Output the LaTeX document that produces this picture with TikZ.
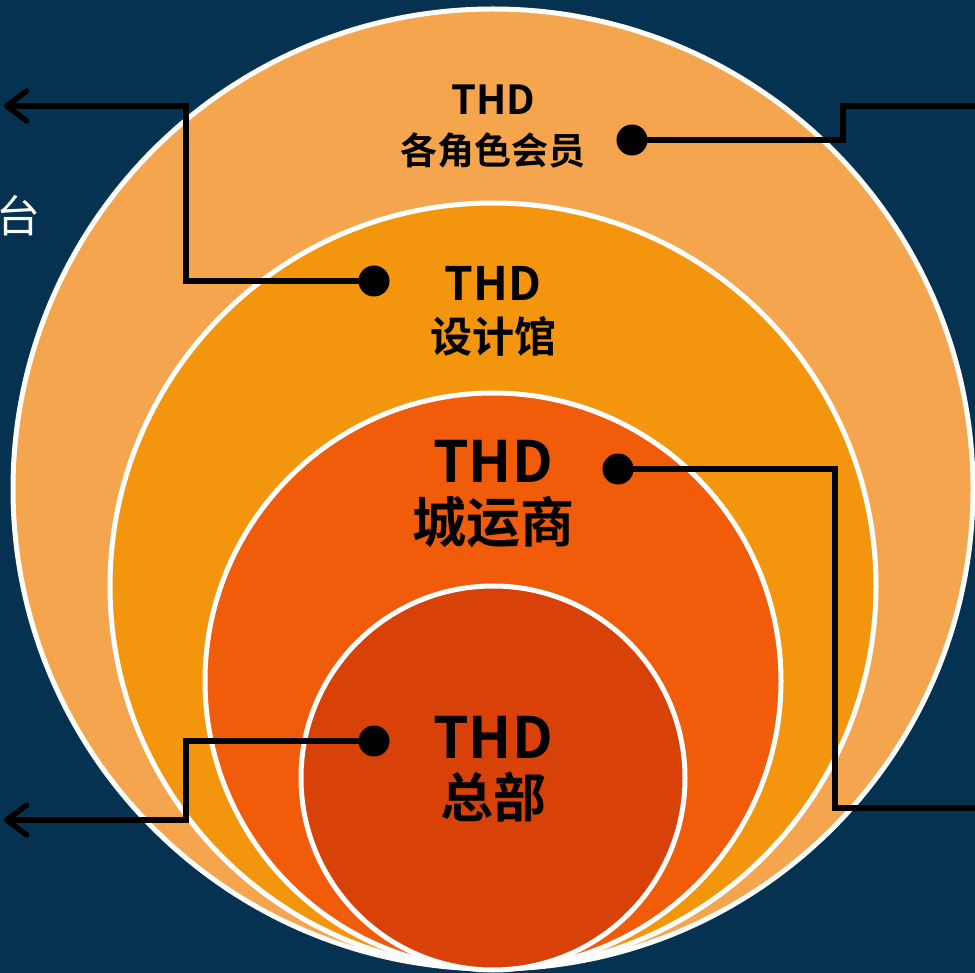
\documentclass[tikz,border=0pt]{standalone}
\usepackage{fontspec}
\newfontfamily\cjk{Noto Sans CJK SC}[BoldFont={Noto Sans CJK SC Bold}]
\usetikzlibrary{arrows.meta}
\definecolor{bgblue}{RGB}{5,50,80}
\definecolor{ringA}{RGB}{244,165,78}
\definecolor{ringB}{RGB}{243,150,14}
\definecolor{ringC}{RGB}{240,92,10}
\definecolor{ringD}{RGB}{216,66,8}
\tikzset{
  ring/.style={draw=white,line width=5pt},
  dotmark/.style={circle,fill=black,inner sep=0pt,minimum size=31pt},
  lead/.style={line width=5.5pt,black,line join=miter},
  leadarrow/.style={lead,-{Straight Barb[length=20pt,width=30pt,line cap=round,line join=round]}},
  lbl/.style={font=\cjk\bfseries,text=black,inner sep=0pt,align=center}
}
\begin{document}
\begin{tikzpicture}[x=1pt,y=-1pt]
\useasboundingbox (0,0) rectangle (975,973);
\fill[bgblue] (0,0) rectangle (975,973);
% circles
\filldraw[ring,fill=ringA] (493,489) circle (480);
\filldraw[ring,fill=ringB] (493,586) circle (383);
\filldraw[ring,fill=ringC] (493,681) circle (288);
\filldraw[ring,fill=ringD] (493,778) circle (192);
% labels
\node[lbl,font=\cjk\bfseries\fontsize{40}{44}\selectfont] (t1) at (493,100) {THD};
\node[lbl,font=\cjk\bfseries\fontsize{37}{40}\selectfont] (c1) at (493,150) {各角色会员};
\node[lbl,font=\cjk\bfseries\fontsize{46}{50}\selectfont] (t2) at (493,283) {THD};
\node[lbl,font=\cjk\bfseries\fontsize{42}{46}\selectfont] (c2) at (493,336) {设计馆};
\node[lbl,font=\cjk\bfseries\fontsize{57}{60}\selectfont] (t3) at (493,461) {THD};
\node[lbl,font=\cjk\bfseries\fontsize{54}{58}\selectfont] (c3) at (493,522) {城运商};
\node[lbl,font=\cjk\bfseries\fontsize{57}{60}\selectfont] (t4) at (493,737) {THD};
\node[lbl,font=\cjk\bfseries\fontsize{53}{58}\selectfont] (c4) at (493,797) {总部};
\node[font=\cjk\fontsize{44}{48}\selectfont,text=white,inner sep=0pt] (side) at (18,216) {台};
% dots
\node[dotmark] (d1) at (632,140) {};
\node[dotmark] (d2) at (374,281) {};
\node[dotmark] (d3) at (618,469) {};
\node[dotmark] (d4) at (374,741) {};
% free ends
\coordinate (e1) at (985,106);
\coordinate (e2) at (4,106);
\coordinate (e3) at (985,808);
\coordinate (e4) at (4,820);
% leaders
\draw[lead] (d1.center) -- (843,140) -- (843,106) -- (e1);
\draw[leadarrow] (d2.center) -- (186,281) -- (186,106) -- (e2);
\draw[lead] (d3.center) -- (835,469) -- (835,808) -- (e3);
\draw[leadarrow] (d4.center) -- (186,741) -- (186,820) -- (e4);
\end{tikzpicture}
\end{document}
